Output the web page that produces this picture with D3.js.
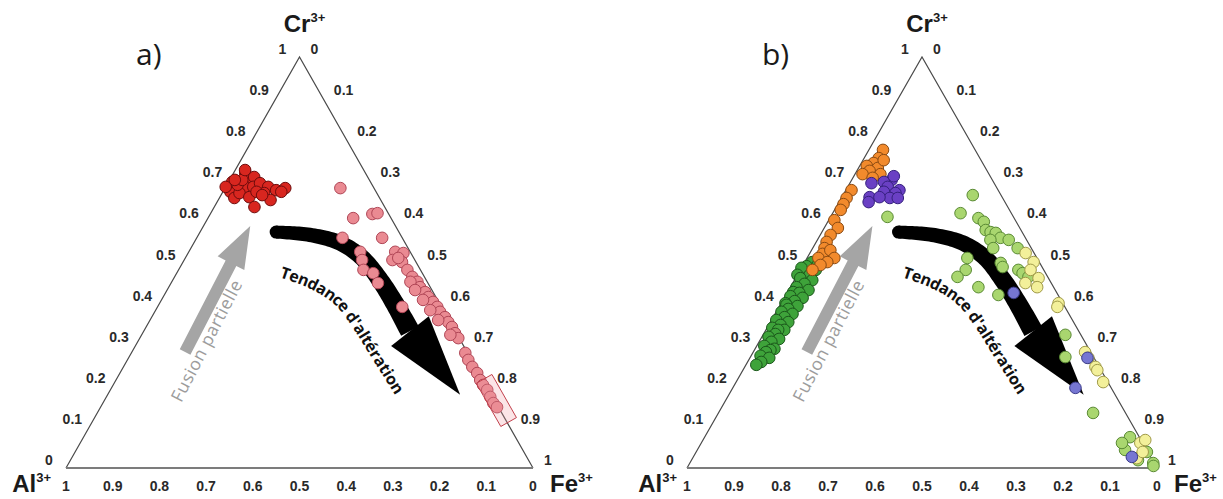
<!DOCTYPE html>
<html><head><meta charset="utf-8">
<script src="https://cdn.jsdelivr.net/npm/d3@7"></script>
<style>body{margin:0;background:#fff}svg{display:block}</style>
</head><body>
<svg id="chart" width="1223" height="499"></svg>
<script>
// ---------- DATA (ternary fractions: [Cr, Fe]; Al = 1 - Cr - Fe) ----------
const tickValues = [0,0.1,0.2,0.3,0.4,0.5,0.6,0.7,0.8,0.9,1];
const tickLabels = ["0","0.1","0.2","0.3","0.4","0.5","0.6","0.7","0.8","0.9","1"];
const axisNames = ["Al","Cr","Fe"];
const axisCharge = "3+";
const panelLabels = ["a)","b)"];
const fusionText = "Fusion partielle";
const alterationText = "Tendance d'altération";

// panel a
const redA = [[0.696,0.008],[0.672,0.016],[0.657,0.032],[0.718,0.025],[0.701,0.042],[0.708,0.049],[0.684,0.042],[0.684,0.059],[0.669,0.037],[0.659,0.063],[0.693,0.069],[0.684,0.091],[0.676,0.112],[0.681,0.129],[0.672,0.125],[0.669,0.090],[0.652,0.112],[0.635,0.086],[0.689,0.023],[0.684,0.000],[0.672,0.072],[0.701,0.027],[0.664,0.088],[0.725,0.021],[0.701,0.011]];
const pinkA = [[0.681,0.247],[0.608,0.311],[0.618,0.347],[0.620,0.357],[0.560,0.397],[0.560,0.312],[0.526,0.367],[0.506,0.381],[0.482,0.396],[0.474,0.421],[0.450,0.443],[0.392,0.524],
  [0.526,0.442],[0.523,0.461],[0.506,0.446],[0.501,0.469],[0.482,0.490],[0.511,0.456],
  [0.465,0.509],[0.453,0.526],[0.440,0.538],[0.428,0.555],[0.416,0.568],[0.404,0.584],[0.392,0.599],[0.380,0.611],[0.367,0.628],[0.355,0.641],[0.343,0.655],[0.328,0.669],[0.316,0.682],[0.280,0.715],[0.263,0.730],[0.246,0.747],[0.231,0.765],[0.214,0.780],[0.202,0.792],[0.190,0.807],[0.173,0.822],[0.158,0.836],[0.148,0.849],
  [0.453,0.511],[0.433,0.531],[0.409,0.560],[0.384,0.588],[0.360,0.617],[0.324,0.661]];
const boxFeRange = [0.785, 0.89];

// panel b
const orangeB = [[0.774,0.030],[0.754,0.031],[0.742,0.026],[0.735,0.015],[0.730,0.041],[0.723,0.027],[0.715,0.054],[0.715,0.016],[0.706,0.042],[0.749,0.044],[0.676,0.012],[0.657,0.011],[0.642,0.012],[0.628,0.013],[0.603,0.012],[0.584,0.029],[0.567,0.022],[0.550,0.022],[0.535,0.025],[0.521,0.028],[0.511,0.024],[0.530,0.040],[0.511,0.058],[0.501,0.048],[0.494,0.037],[0.482,0.026]];
const purpleB = [[0.701,0.085],[0.696,0.071],[0.693,0.046],[0.684,0.085],[0.676,0.114],[0.669,0.109],[0.672,0.083],[0.657,0.103],[0.659,0.059],[0.647,0.063],[0.657,0.120],[0.659,0.080],[0.710,0.085]];
const blueB = [[0.426,0.482],[0.195,0.729],[0.268,0.718],[0.027,0.933]];
const darkGreenB = [[0.511,0.029],[0.501,0.016],[0.494,0.031],[0.491,0.009],[0.487,0.000],[0.482,0.033],[0.470,0.026],[0.470,0.000],[0.462,0.010],[0.457,0.038],[0.448,0.026],[0.440,0.013],[0.433,0.042],[0.428,0.012],[0.426,0.026],[0.418,0.011],[0.414,0.039],[0.406,0.026],[0.401,0.009],[0.397,0.013],[0.394,0.038],[0.387,0.022],[0.380,0.011],[0.375,0.037],[0.367,0.024],[0.360,0.010],[0.355,0.038],[0.348,0.025],[0.341,0.011],[0.336,0.039],[0.336,0.026],[0.326,0.025],[0.319,0.014],[0.314,0.039],[0.307,0.026],[0.297,0.016],[0.290,0.041],[0.287,0.034],[0.282,0.027],[0.273,0.020],[0.268,0.041],[0.258,0.029],[0.251,0.022]];
const lightGreenB = [[0.664,0.276],[0.620,0.272],[0.608,0.316],[0.599,0.332],[0.579,0.346],[0.574,0.359],[0.572,0.371],[0.560,0.387],[0.555,0.407],[0.535,0.436],[0.555,0.368],[0.535,0.384],[0.511,0.341],[0.482,0.352],[0.465,0.343],[0.440,0.400],[0.421,0.452],[0.499,0.418],[0.489,0.427],[0.482,0.464],[0.474,0.477],[0.465,0.494],[0.324,0.643],[0.270,0.670],[0.134,0.797],[0.075,0.905],[0.044,0.910],[0.039,0.959],[0.012,0.986],[0.019,0.950],[0.611,0.121],[0.061,0.895],[0.005,0.990]];
const yellowB = [[0.523,0.459],[0.501,0.487],[0.482,0.490],[0.462,0.517],[0.440,0.525],[0.450,0.495],[0.401,0.590],[0.392,0.592],[0.282,0.706],[0.268,0.720],[0.246,0.746],[0.238,0.754],[0.209,0.781],[0.061,0.934],[0.024,0.945],[0.068,0.941],[0.039,0.950]];

// annotation geometry (ternary)
const fusionArrow = [[0.282,0.114],[0.589,0.100]];
const fusionTextCenter = [0.311,0.144];
const alterationPath = [[0.574,0.163],[0.567,0.240],[0.547,0.314],[0.511,0.379],[0.457,0.444],[0.397,0.507],[0.333,0.570]];
const alterationTip = [0.178,0.755];
const alterationTextPath = [[0.478,0.222],[0.450,0.302],[0.409,0.379],[0.353,0.446],[0.284,0.519],[0.184,0.624]];

// ---------- DRAWING ----------
const svg = d3.select("#chart");
const tickFont = "'Liberation Sans', Arial, sans-serif";
const panels = [
  {x0:66, x1:533, yBase:468, yApex:57, alEnd:51, label:panelLabels[0], labelX:136,
   series:[{data:redA, fill:"#d8261f", stroke:"#6e0c0c"},{data:pinkA, fill:"#ea8a92", stroke:"#b04656"}], box:true},
  {x0:687, x1:1157, yBase:468, yApex:57, alEnd:677, label:panelLabels[1], labelX:762,
   series:[{data:darkGreenB, fill:"#3ea33a", stroke:"#1b571b"},{data:orangeB, fill:"#f28a2c", stroke:"#8a4a12"},
           {data:purpleB, fill:"#6a40c4", stroke:"#35207e"},{data:lightGreenB, fill:"#a9d66f", stroke:"#5a8a34"},
           {data:yellowB, fill:"#f3f09a", stroke:"#a09a48"},{data:blueB, fill:"#7676d2", stroke:"#3c3c8c"}], box:false}
];

panels.forEach((P, pi) => {
  const g = svg.append("g");
  const xS = d3.scaleLinear().domain([0,1]).range([P.x0, P.x1]);
  const yS = d3.scaleLinear().domain([0,1]).range([P.yBase, P.yApex]);
  const tern = (c, f) => [xS(f + c/2), yS(c)];

  // triangle
  const A = tern(0,0), C = tern(1,0), F = tern(0,1);
  g.append("path").attr("d", d3.line()([A, C, F])).attr("fill","none").attr("stroke","#4a4a4a").attr("stroke-width",1.2);
  g.append("line").attr("x1",A[0]).attr("y1",A[1]).attr("x2",F[0]).attr("y2",F[1]).attr("stroke","#7c7c7c").attr("stroke-width",2.2);

  // tick labels
  tickValues.forEach((v, i) => {
    const [lx, ly] = tern(v, 0);
    g.append("text").attr("x", lx - 17).attr("y", ly - 8).attr("text-anchor","middle").attr("dominant-baseline","central")
      .style("font-family", tickFont).style("font-weight","bold").style("font-size","14px").attr("fill","#2a2a2a").text(tickLabels[i]);
    const [rx, ry] = tern(1 - v, v);
    g.append("text").attr("x", rx + 11).attr("y", ry - 8).attr("text-anchor","start").attr("dominant-baseline","central")
      .style("font-family", tickFont).style("font-weight","bold").style("font-size","14px").attr("fill","#2a2a2a").text(tickLabels[i]);
    const [bx, by] = tern(0, 1 - v);
    g.append("text").attr("x", bx).attr("y", by + 18).attr("text-anchor","middle").attr("dominant-baseline","central")
      .style("font-family", tickFont).style("font-weight","bold").style("font-size","14px").attr("fill","#2a2a2a").text(tickLabels[i]);
  });

  // axis names
  function axisName(name, x, y, anchor) {
    const t = g.append("text").attr("x", x).attr("y", y).attr("text-anchor", anchor)
      .style("font-family", tickFont).style("font-weight","bold").style("font-size","24px").attr("fill","#1a1a1a");
    t.append("tspan").text(name);
    t.append("tspan").attr("dy", -10).style("font-size","13px").text(axisCharge);
  }
  axisName(axisNames[1], C[0] + 5, C[1] - 25, "middle");
  axisName(axisNames[0], P.alEnd, 492, "end");
  axisName(axisNames[2], F[0] + 17, 492, "start");

  // panel label
  g.append("text").attr("x", P.labelX).attr("y", 65).style("font-family","'Open Sans', 'Noto Sans', sans-serif")
    .style("font-size","30px").attr("fill","#1a1a1a").text(P.label);

  // gray arrow (fusion partielle)
  const t0 = tern(...fusionArrow[0]), t1 = tern(...fusionArrow[1]);
  let dx = t1[0]-t0[0], dy = t1[1]-t0[1], len = Math.hypot(dx,dy);
  let ux = dx/len, uy = dy/len, nx = -uy, ny = ux;
  const hl = 42, hw = 15, sw = 6;
  const hb = [t1[0]-ux*hl, t1[1]-uy*hl];
  g.append("path").attr("d", d3.line()([
      [t0[0]+nx*sw, t0[1]+ny*sw],[hb[0]+nx*sw, hb[1]+ny*sw],[hb[0]+nx*hw, hb[1]+ny*hw], t1,
      [hb[0]-nx*hw, hb[1]-ny*hw],[hb[0]-nx*sw, hb[1]-ny*sw],[t0[0]-nx*sw, t0[1]-ny*sw]]) + "Z")
    .attr("fill","#a5a5a5");
  const fc = tern(...fusionTextCenter);
  const ang = Math.atan2(uy, ux) * 180 / Math.PI;
  g.append("text").attr("transform", `translate(${fc[0]},${fc[1]}) rotate(${ang})`)
    .attr("text-anchor","middle").attr("dominant-baseline","central")
    .style("font-family","'Open Sans', 'Noto Sans', sans-serif").style("font-size","17.5px").style("letter-spacing","0.6px")
    .attr("fill","#9c9c9c").text(fusionText);

  // black arrow (tendance d'altération)
  const cpts = alterationPath.map(d => tern(d[0], d[1]));
  const tmp = g.append("path").attr("d", d3.line().curve(d3.curveCatmullRom)(cpts)).attr("fill","none");
  const node = tmp.node(), L = node.getTotalLength();
  const N = 80, w0 = 13, w1 = 20, left = [], right = [];
  for (let i = 0; i <= N; i++) {
    const s = L * i / N;
    const p = node.getPointAtLength(s);
    const pa = node.getPointAtLength(Math.max(0, s - 0.5)), pb = node.getPointAtLength(Math.min(L, s + 0.5));
    let ddx = pb.x - pa.x, ddy = pb.y - pa.y, dl = Math.hypot(ddx, ddy) || 1;
    const nnx = -ddy/dl, nny = ddx/dl, w = (w0 + (w1 - w0) * i / N) / 2;
    left.push([p.x + nnx*w, p.y + nny*w]); right.push([p.x - nnx*w, p.y - nny*w]);
  }
  tmp.remove();
  g.append("path").attr("d", d3.line()(left.concat(right.reverse())) + "Z").attr("fill","#000");
  g.append("circle").attr("cx", cpts[0][0]).attr("cy", cpts[0][1]).attr("r", w0/2).attr("fill","#000");
  const B = cpts[cpts.length-1], T = tern(...alterationTip);
  dx = T[0]-B[0]; dy = T[1]-B[1]; len = Math.hypot(dx,dy); ux = dx/len; uy = dy/len; nx = -uy; ny = ux;
  const ahw = 24;
  g.append("path").attr("d", d3.line()([[B[0]+nx*ahw, B[1]+ny*ahw], T, [B[0]-nx*ahw, B[1]-ny*ahw]]) + "Z").attr("fill","#000");

  // curved text
  const tpts = alterationTextPath.map(d => tern(d[0], d[1]));
  const pid = "altPath" + pi;
  const tp = g.append("path").attr("id", pid).attr("d", d3.line().curve(d3.curveCatmullRom)(tpts)).attr("fill","none");
  const TL = tp.node().getTotalLength();
  const fs0 = 18;
  const txt = g.append("text").attr("dominant-baseline","central")
    .style("font-family","'Liberation Sans Narrow', 'Open Sans', 'Noto Sans', sans-serif").style("font-weight","700")
    .style("font-size", fs0 + "px").attr("fill","#111");
  txt.append("textPath").attr("href", "#" + pid).text(alterationText);
  const tl = txt.node().getComputedTextLength();
  if (tl > TL) txt.style("font-size", (fs0 * TL / tl).toFixed(2) + "px");

  // points
  P.series.forEach(s => {
    g.append("g").selectAll("circle").data(s.data).join("circle")
      .attr("cx", d => tern(d[0], d[1])[0]).attr("cy", d => tern(d[0], d[1])[1])
      .attr("r", 5.8).attr("fill", s.fill).attr("stroke", s.stroke).attr("stroke-width", 1);
  });

  // highlight box
  if (P.box) {
    const e0 = tern(1 - boxFeRange[0], boxFeRange[0]), e1 = tern(1 - boxFeRange[1], boxFeRange[1]);
    dx = e1[0]-e0[0]; dy = e1[1]-e0[1]; len = Math.hypot(dx,dy); ux = dx/len; uy = dy/len; nx = -uy; ny = ux;
    const bw = 9, off = -1.5;
    const cx0 = e0[0] + nx*off, cy0 = e0[1] + ny*off, cx1 = e1[0] + nx*off, cy1 = e1[1] + ny*off;
    g.append("path").attr("d", d3.line()([[cx0+nx*bw, cy0+ny*bw],[cx1+nx*bw, cy1+ny*bw],[cx1-nx*bw, cy1-ny*bw],[cx0-nx*bw, cy0-ny*bw]]) + "Z")
      .attr("fill","rgba(240,150,160,0.25)").attr("stroke","#c2404c").attr("stroke-width",1);
  }
});
</script>
</body></html>
